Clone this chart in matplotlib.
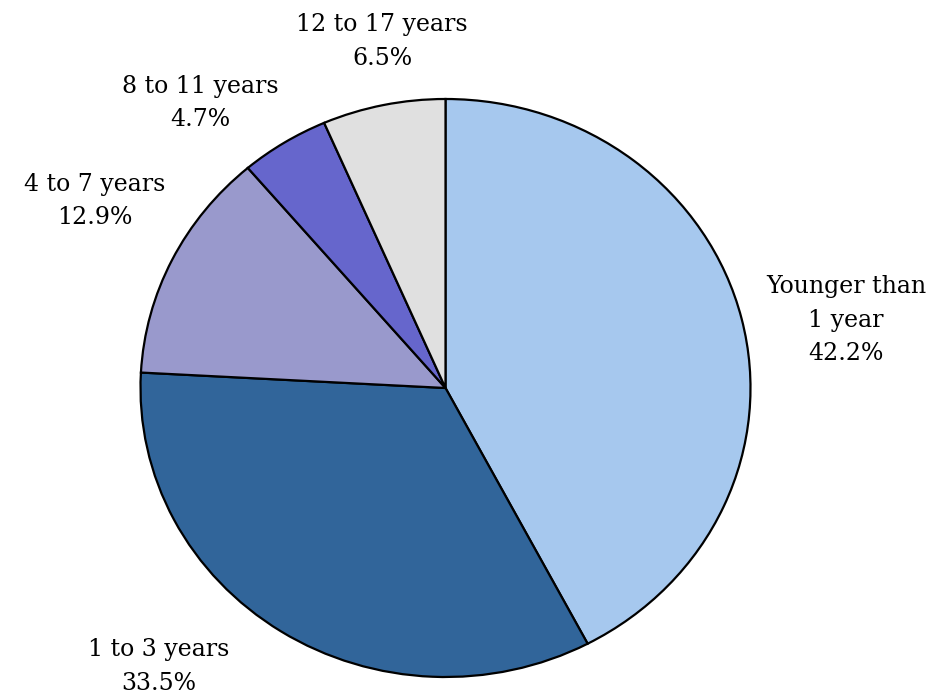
import matplotlib.pyplot as plt

# data
categories = ["Younger than\n1 year", "1 to 3 years", "4 to 7 years", "8 to 11 years", "12 to 17 years"]
shares = [42.2, 33.5, 12.9, 4.7, 6.5]
colors = ["#A6C8EE", "#31659A", "#9999CC", "#6666CC", "#E0E0E0"]

# label centres in pie units (layout only)
label_pos = [(1.313, 0.235), (-0.939, -0.965), (-1.149, 0.647), (-0.805, 0.986), (-0.208, 1.20)]

fig = plt.figure(figsize=(9.31, 7.00), dpi=100)
ax = fig.add_axes([140.5 / 931, 23 / 700, 610 / 931, 578 / 700])

ax.pie(shares, colors=colors, startangle=90, counterclock=False,
       wedgeprops=dict(edgecolor="black", linewidth=1.6))
ax.set_aspect("auto")
ax.set_xlim(-1, 1)
ax.set_ylim(-1, 1)

for cat, val, (x, y) in zip(categories, shares, label_pos):
    ax.text(x, y, f"{cat}\n{val}%", ha="center", va="center",
            fontsize=17, family="DejaVu Serif", linespacing=1.6, clip_on=False)

fig.savefig("out.png", dpi=100)
